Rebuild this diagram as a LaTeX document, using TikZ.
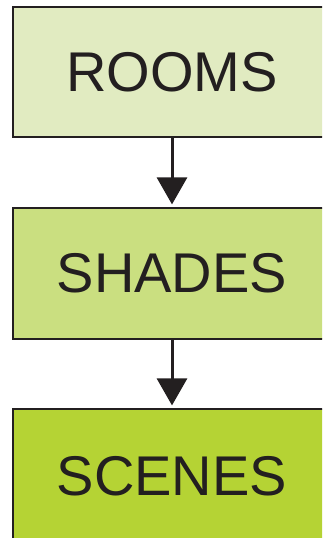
\documentclass[tikz,border=0pt]{standalone}
\usepackage{fontspec}
\setmainfont{Liberation Sans}
\usetikzlibrary{arrows.meta}
\definecolor{cRooms}{HTML}{E1EBC1}
\definecolor{cShades}{HTML}{CADF80}
\definecolor{cScenes}{HTML}{B5D334}
\definecolor{cLine}{HTML}{231F20}
\tikzset{
  levelbox/.style={draw=cLine, line width=1.2pt, minimum width=318pt, minimum height=130pt,
    inner sep=0pt, font=\fontsize{56}{60}\selectfont, text=cLine},
  flowarrow/.style={draw=cLine, line width=3pt, -{Triangle[width=30pt,length=27pt]}, shorten >=3pt}
}
\begin{document}
\begin{tikzpicture}[x=1pt,y=1pt]
\useasboundingbox (0,0) rectangle (322,-538);
\clip (0,0) rectangle (322,-538);
\node[levelbox, fill=cRooms] (rooms) at (172,-72) {ROOMS};
\node[levelbox, fill=cShades, minimum height=131pt] (shades) at (172,-273.5) {SHADES};
\node[levelbox, fill=cScenes, minimum height=134pt] (scenes) at (172,-476) {SCENES};
\draw[flowarrow] (rooms.south) -- (shades.north);
\draw[flowarrow] (shades.south) -- (scenes.north);
\end{tikzpicture}
\end{document}
